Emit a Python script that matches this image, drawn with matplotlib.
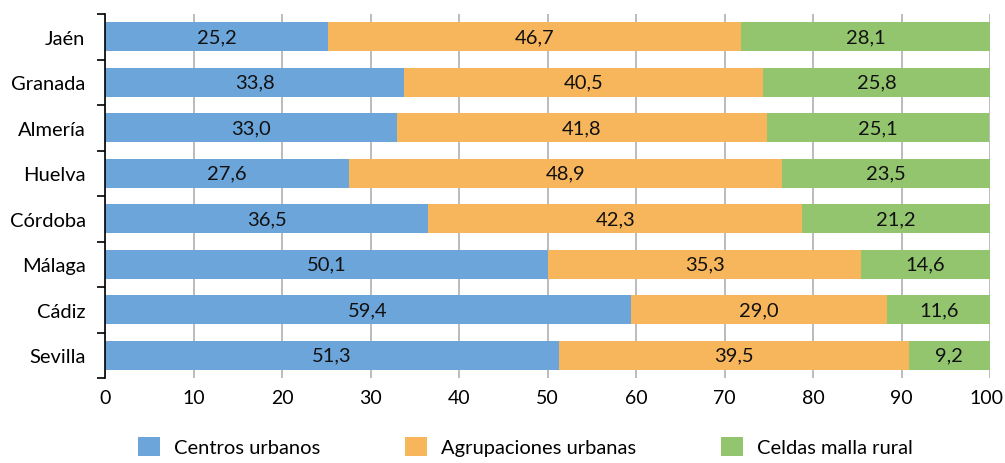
import matplotlib
matplotlib.use("Agg")
import matplotlib.pyplot as plt
import matplotlib.transforms as mtransforms
import numpy as np
from matplotlib.ticker import FixedLocator

categories = ["Jaén", "Granada", "Almería", "Huelva", "Córdoba", "Málaga", "Cádiz", "Sevilla"]
centros = [25.2, 33.8, 33.0, 27.6, 36.5, 50.1, 59.4, 51.3]
agrupaciones = [46.7, 40.5, 41.8, 48.9, 42.3, 35.3, 29.0, 39.5]
celdas = [28.1, 25.8, 25.1, 23.5, 21.2, 14.6, 11.6, 9.2]
series_names = ["Centros urbanos", "Agrupaciones urbanas", "Celdas malla rural"]
colors = ["#6ca5da", "#f8b65c", "#93c56f"]
x_ticks = [0, 10, 20, 30, 40, 50, 60, 70, 80, 90, 100]

plt.rcParams['font.family'] = ['Lato', 'DejaVu Sans']
FS = 14.5

fig = plt.figure(figsize=(10.05, 4.64), dpi=100)
ax = fig.add_axes([105/1005, 1-379/464, 885/1005, 364/464])

y = np.arange(len(categories))
left = np.zeros(len(categories))
for vals, name, col in zip([centros, agrupaciones, celdas], series_names, colors):
    vals = np.array(vals)
    ax.barh(y, vals, left=left, height=0.64, color=col, label=name, zorder=2)
    for yi, l, v in zip(y, left, vals):
        ax.text(l + v/2, yi, f"{v:.1f}".replace(".", ","), ha="center", va="center",
                fontsize=FS, color="#111111", zorder=3)
    left = left + vals

ax.set_xlim(0, 100)
ax.set_ylim(len(categories) - 0.5, -0.5)
ax.set_xticks(x_ticks)
ax.set_xticklabels([str(t) for t in x_ticks], fontsize=14)
ax.set_yticks(y)
ax.set_yticklabels(categories, fontsize=FS)
ax.yaxis.set_minor_locator(FixedLocator(np.arange(-0.5, len(categories), 1.0)))
ax.tick_params(axis='y', which='major', length=0, pad=14)
ax.tick_params(axis='y', which='minor', length=6, width=1.2, color='black')
ax.tick_params(axis='x', length=0, pad=8)
ax.grid(axis='x', color='#b0b0b0', linewidth=1.2, zorder=0)
for s in ['top', 'right', 'bottom']:
    ax.spines[s].set_visible(False)
ax.spines['left'].set_linewidth(1.2)
ax.spines['left'].set_zorder(4)

# nudge the last x tick label so it stays inside the canvas
last = ax.get_xticklabels()[-1]
last.set_transform(last.get_transform() + mtransforms.ScaledTranslation(-4/100, 0, fig.dpi_scale_trans))

handles, labels = ax.get_legend_handles_labels()
fig.legend(handles, labels, loc='lower center', bbox_to_anchor=(0.523, -0.025), ncol=3,
           frameon=False, fontsize=FS, handlelength=1.1, handleheight=1.1,
           columnspacing=4.2, handletextpad=0.7)

fig.savefig("out.png", dpi=100)
